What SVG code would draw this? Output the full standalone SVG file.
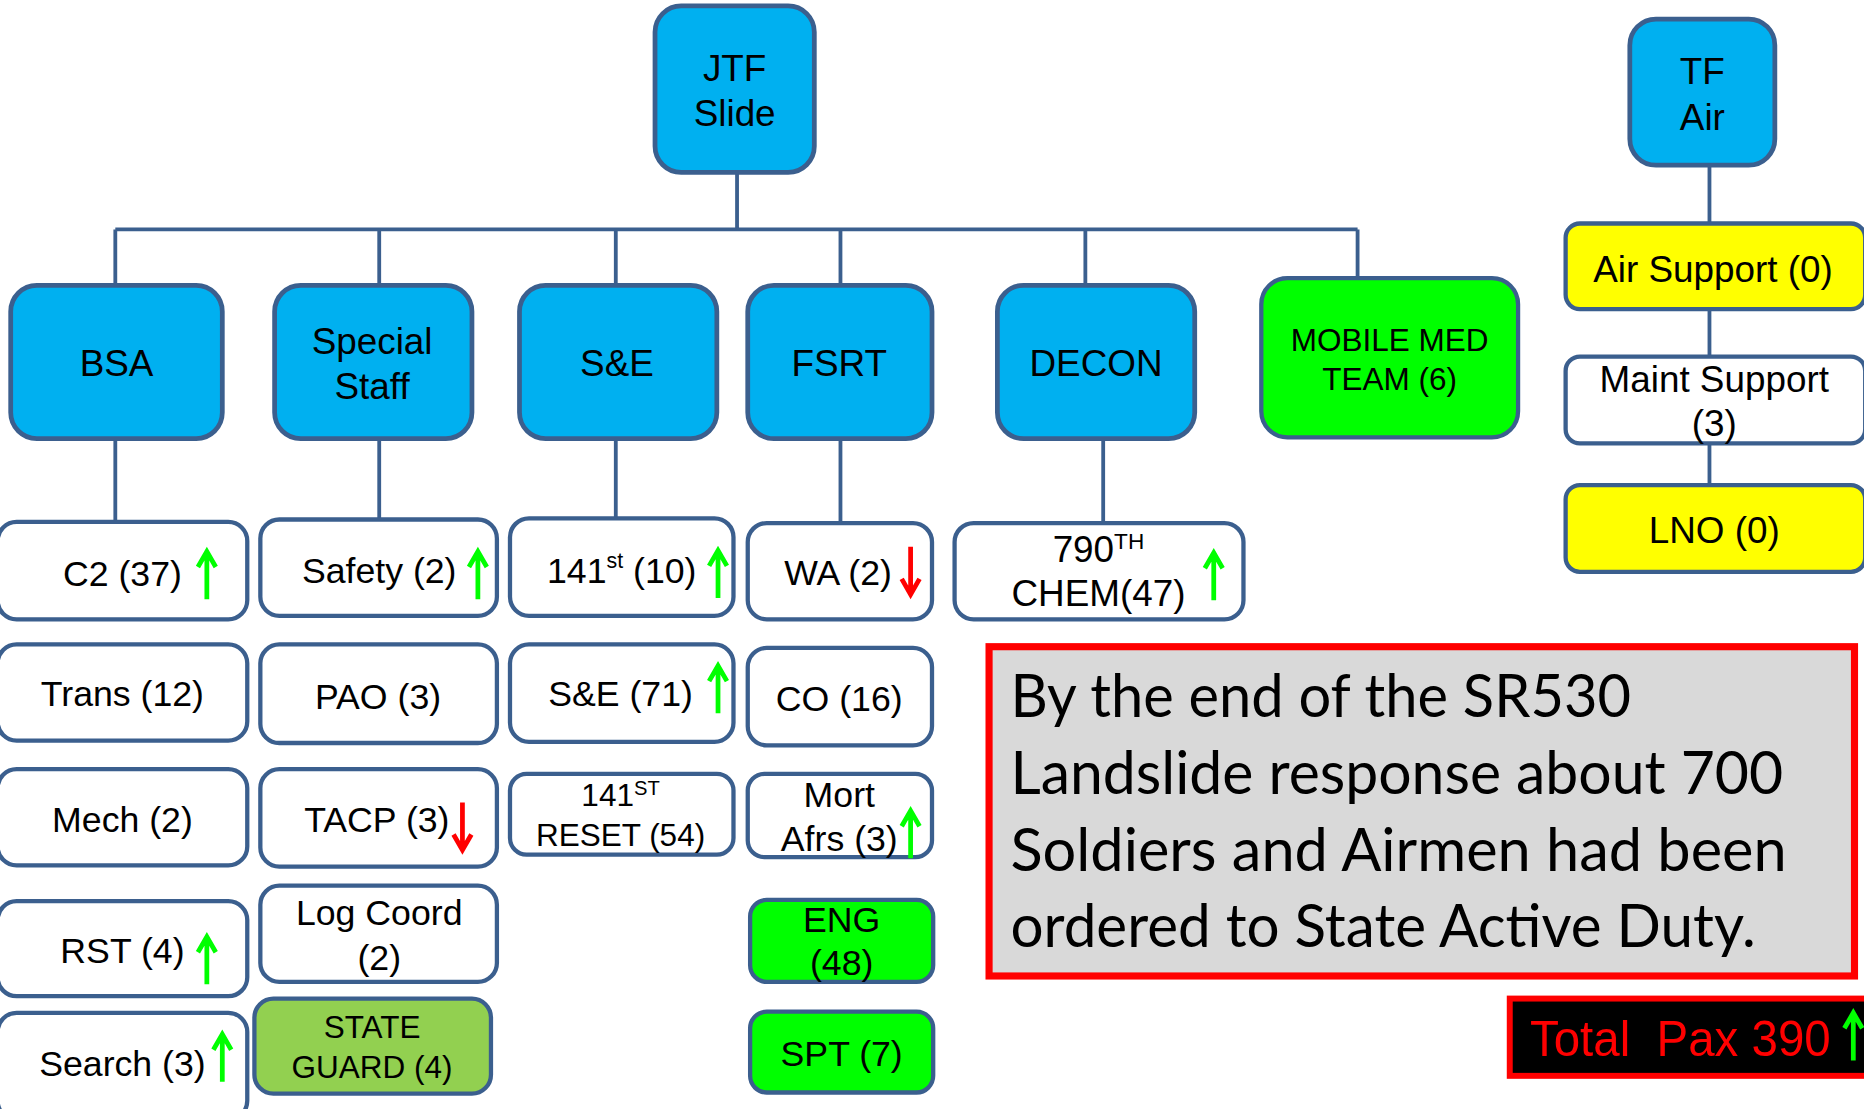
<svg xmlns="http://www.w3.org/2000/svg" xmlns:xlink="http://www.w3.org/1999/xlink" width="1864" height="1109" viewBox="0 0 1864 1109">
<defs>
<style>
.big{fill:#00B0F0;stroke:#3B5F8E;stroke-width:4}
.box{fill:#FFFFFF;stroke:#3B5F8E;stroke-width:3.6}
.grn{fill:#00FF00;stroke:#3B5F8E;stroke-width:3.6}
.sg{fill:#92D050;stroke:#3B5F8E;stroke-width:3.6}
.yel{fill:#FFFF00;stroke:#3B5F8E;stroke-width:3.6}
.t{font-family:"Liberation Sans",Arial,sans-serif;font-size:30px;fill:#000;text-anchor:middle}
.t31{font-family:"Liberation Sans",Arial,sans-serif;font-size:31px;fill:#000;text-anchor:middle}
.ts{font-family:"Liberation Sans",Arial,sans-serif;font-size:26.5px;fill:#000;text-anchor:middle}
.conn{stroke:#3B5F8E;stroke-width:3.2;fill:none}
.up{stroke:#00FF00;stroke-width:4;fill:none}
.dn{stroke:#FF0000;stroke-width:4;fill:none}
.note{font-family:Lato,"Open Sans",sans-serif;font-size:50px;fill:#000}
</style>
<path id="upA" d="M0,42 V2 M-7.5,15 L0,2 L7.5,15"/>
<path id="dnA" d="M0,0 V40 M-7.5,27 L0,40 L7.5,27"/>
</defs>
<rect width="1864" height="1109" fill="#FFFFFF"/>
<g transform="scale(1.18878)">
<g id="connectors">
<path class="conn" d="M620,145 V194 M97,193 H1142 M97,193 V240 M319,193 V240 M518,193 V240 M707,193 V240 M913,193 V240 M1142,193 V234"/>
<path class="conn" d="M97,369 V439 M319,369 V437 M518,369 V437 M707,369 V440 M928,369 V440"/>
<path class="conn" d="M1438,139 V188 M1438,260 V300 M1438,373 V408"/>
</g>
<g id="node-jtf"><rect class="big" x="551" y="5" width="134" height="140" rx="22"/><text class="t31" x="618" y="68">JTF</text><text class="t31" x="618" y="106">Slide</text></g>
<g id="node-tfair"><rect class="big" x="1371" y="16" width="122" height="123" rx="22"/><text class="t31" x="1432" y="71">TF</text><text class="t31" x="1432" y="109">Air</text></g>
<g id="node-bsa"><rect class="big" x="9" y="240" width="178" height="129" rx="22"/><text class="t31" x="98" y="316">BSA</text></g>
<g id="node-special"><rect class="big" x="231" y="240" width="166" height="129" rx="22"/><text class="t31" x="313" y="298">Special</text><text class="t31" x="313" y="336">Staff</text></g>
<g id="node-se"><rect class="big" x="437" y="240" width="166" height="129" rx="22"/><text class="t31" x="519" y="316">S&amp;E</text></g>
<g id="node-fsrt"><rect class="big" x="629" y="240" width="155" height="129" rx="22"/><text class="t31" x="706" y="316">FSRT</text></g>
<g id="node-decon"><rect class="big" x="839" y="240" width="166" height="129" rx="22"/><text class="t31" x="922" y="316">DECON</text></g>
<g id="node-mobile"><rect class="grn" x="1061" y="234" width="216" height="134" rx="22" stroke-width="4"/><text class="ts" x="1169" y="295">MOBILE MED</text><text class="ts" x="1169" y="328">TEAM (6)</text></g>
<g id="node-airsupport"><rect class="yel" x="1317" y="188" width="252" height="72" rx="12"/><text class="t31" x="1441" y="237">Air Support (0)</text></g>
<g id="node-maint"><rect class="box" x="1317" y="300" width="252" height="73" rx="12"/><text class="t31" x="1442" y="330">Maint Support</text><text class="t31" x="1442" y="367">(3)</text></g>
<g id="node-lno"><rect class="yel" x="1317" y="408" width="252" height="73" rx="12"/><text class="t31" x="1442" y="457">LNO (0)</text></g>
<g id="node-c2"><rect class="box" x="-2" y="439" width="210" height="82" rx="16"/><text class="t" x="103" y="493">C2 (37)</text><use href="#upA" class="up" x="174" y="462"/></g>
<g id="node-trans"><rect class="box" x="-2" y="542" width="210" height="81" rx="16"/><text class="t" x="103" y="594">Trans (12)</text></g>
<g id="node-mech"><rect class="box" x="-2" y="647" width="210" height="81" rx="16"/><text class="t" x="103" y="700">Mech (2)</text></g>
<g id="node-rst"><rect class="box" x="-2" y="758" width="210" height="80" rx="16"/><text class="t" x="103" y="810">RST (4)</text><use href="#upA" class="up" x="174" y="786"/></g>
<g id="node-search"><rect class="box" x="-2" y="852" width="210" height="90" rx="16"/><text class="t" x="103" y="905">Search (3)</text><use href="#upA" class="up" x="187" y="868"/></g>
<g id="node-safety"><rect class="box" x="219" y="437" width="199" height="81" rx="16"/><text class="t" x="319" y="490">Safety (2)</text><use href="#upA" class="up" x="402" y="462"/></g>
<g id="node-pao"><rect class="box" x="219" y="542" width="199" height="83" rx="16"/><text class="t" x="318" y="596">PAO (3)</text></g>
<g id="node-tacp"><rect class="box" x="219" y="647" width="199" height="82" rx="16"/><text class="t" x="317" y="700">TACP (3)</text><use href="#dnA" class="dn" x="389" y="675"/></g>
<g id="node-logcoord"><rect class="box" x="219" y="745" width="199" height="81" rx="16"/><text class="t" x="319" y="778">Log Coord</text><text class="t" x="319" y="816">(2)</text></g>
<g id="node-stateguard"><rect class="sg" x="214" y="840" width="199" height="80" rx="16"/><text class="ts" x="313" y="873">STATE</text><text class="ts" x="313" y="907">GUARD (4)</text></g>
<g id="node-141st"><rect class="box" x="429" y="436" width="188" height="82" rx="16"/><text class="t" x="523" y="490">141<tspan font-size="18" dy="-12">st</tspan><tspan dy="12"> (10)</tspan></text><use href="#upA" class="up" x="604" y="461"/></g>
<g id="node-se71"><rect class="box" x="429" y="542" width="188" height="82" rx="16"/><text class="t" x="522" y="594">S&amp;E (71)</text><use href="#upA" class="up" x="604" y="558"/></g>
<g id="node-reset"><rect class="box" x="429" y="651" width="188" height="68" rx="14"/><text class="ts" x="522" y="678">141<tspan font-size="17" dy="-9">ST</tspan></text><text class="ts" x="522" y="712">RESET (54)</text></g>
<g id="node-wa"><rect class="box" x="629" y="440" width="155" height="81" rx="16"/><text class="t" x="705" y="492">WA (2)</text><use href="#dnA" class="dn" x="766" y="460"/></g>
<g id="node-co"><rect class="box" x="629" y="545" width="155" height="82" rx="16"/><text class="t" x="706" y="598">CO (16)</text></g>
<g id="node-mort"><rect class="box" x="629" y="651" width="155" height="70" rx="14"/><text class="t" x="706" y="679">Mort</text><text class="t" x="706" y="716">Afrs (3)</text><use href="#upA" class="up" x="766" y="680"/></g>
<g id="node-eng"><rect class="grn" x="631" y="757" width="154" height="69" rx="14"/><text class="t" x="708" y="784">ENG</text><text class="t" x="708" y="820">(48)</text></g>
<g id="node-spt"><rect class="grn" x="631" y="851" width="154" height="68" rx="14"/><text class="t" x="708" y="897">SPT (7)</text></g>
<g id="node-790"><rect class="box" x="803" y="440" width="243" height="81" rx="16"/><text class="t31" x="924" y="473">790<tspan font-size="19" dy="-11">TH</tspan></text><text class="t31" x="924" y="510">CHEM(47)</text><use href="#upA" class="up" x="1021" y="463"/></g>
<g id="node-note"><rect x="832" y="544" width="728" height="277" fill="#D9D9D9" stroke="#FF0000" stroke-width="6"/>
<text class="note" x="850" y="603" textLength="522" lengthAdjust="spacingAndGlyphs">By the end of the SR530</text>
<text class="note" x="850" y="668" textLength="650" lengthAdjust="spacingAndGlyphs">Landslide response about 700</text>
<text class="note" x="850" y="733" textLength="653" lengthAdjust="spacingAndGlyphs">Soldiers and Airmen had been</text>
<text class="note" x="850" y="797" textLength="627" lengthAdjust="spacingAndGlyphs">ordered to State Active Duty.</text></g>
<g id="node-total"><rect x="1270" y="840" width="304" height="65" fill="#000000" stroke="#FF0000" stroke-width="5"/><text xml:space="preserve" x="1287" y="888" font-family="Liberation Sans, Arial, sans-serif" font-size="42" fill="#FF0000" textLength="253" lengthAdjust="spacingAndGlyphs">Total  Pax 390</text><use href="#upA" class="up" x="1559" y="850"/></g>
</g>
</svg>
